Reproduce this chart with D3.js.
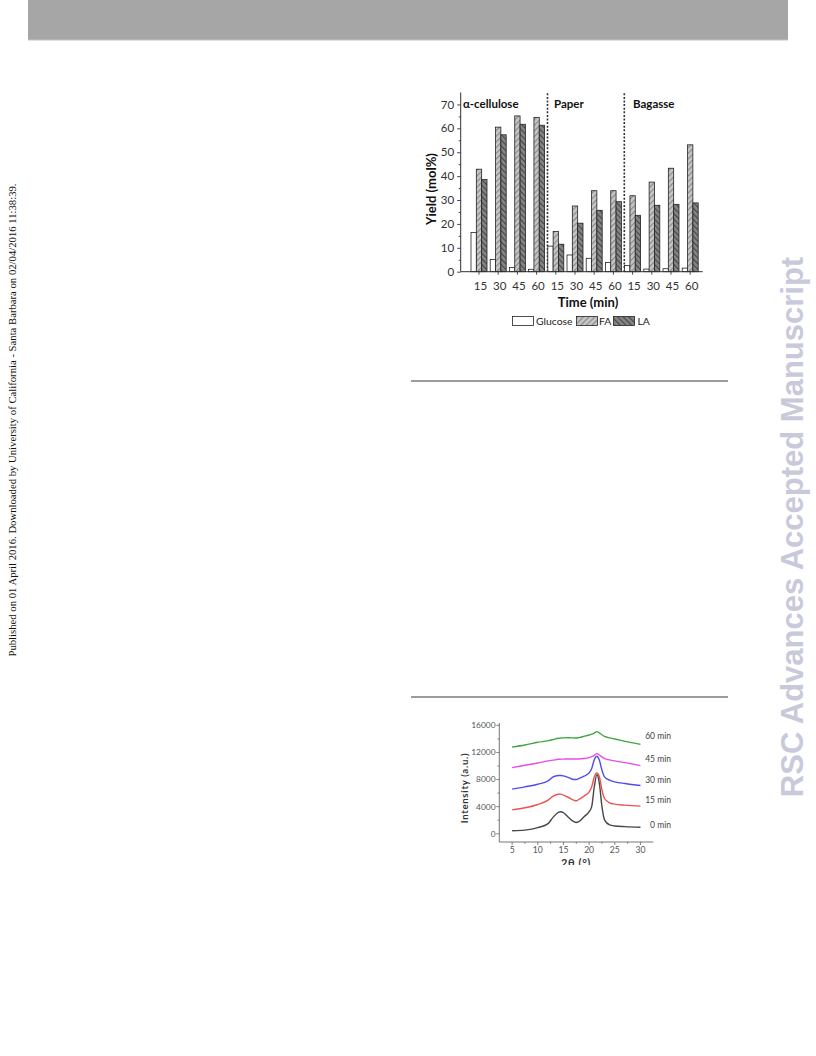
<!DOCTYPE html>
<html>
<head>
<meta charset="utf-8">
<script src="https://cdn.jsdelivr.net/npm/d3@7"></script>
<style>
  html, body { margin: 0; padding: 0; background: #fff; }
  svg { display: block; }
</style>
</head>
<body>
<svg id="page" width="816" height="1056"></svg>
<script>
// ---- Yield chart data (mol%) ----
const materials = ["α-cellulose", "Paper", "Bagasse"];
const times = ["15", "30", "45", "60"];
const seriesNames = ["Glucose", "FA", "LA"];
const glucose = [16.4, 5.1, 1.8, 1.0, 10.7, 7.0, 5.6, 3.9, 2.6, 1.1, 1.25, 1.5];
const formicAcid = [42.9, 60.5, 65.2, 64.6, 16.8, 27.5, 33.9, 33.9, 31.8, 37.5, 43.3, 53.1];
const levulinicAcid = [38.6, 57.3, 61.7, 61.3, 11.5, 20.3, 25.7, 29.3, 23.6, 27.8, 28.2, 28.8];
const yieldTicks = [0, 10, 20, 30, 40, 50, 60, 70];

// ---- XRD patterns: 2θ (°) and intensity (a.u.) ----
const twoTheta = [5, 7.5, 10, 12, 13, 14, 14.5, 15, 16, 17, 17.5, 18, 19, 20, 20.5, 21, 21.5, 22, 22.5, 23, 24, 25, 27, 30];
const xrd0 = [450, 540, 900, 1500, 2450, 3150, 3250, 3100, 2400, 1780, 1650, 1780, 2500, 3250, 4000, 6900, 8700, 7400, 4000, 2050, 1300, 1150, 1050, 950];
const xrd15 = [3530, 3830, 4320, 4960, 5550, 5840, 5850, 5690, 5350, 4960, 4860, 5060, 5550, 6180, 6920, 8390, 8980, 8390, 6430, 5200, 4560, 4370, 4220, 4070];
const xrd30 = [6580, 6920, 7310, 7800, 8390, 8590, 8600, 8540, 8290, 8000, 8000, 8150, 8490, 8980, 9620, 10940, 11440, 10850, 9370, 8390, 7900, 7660, 7410, 7120];
const xrd45 = [9770, 10110, 10450, 10750, 10870, 10990, 11010, 11020, 11040, 11040, 11040, 11040, 11100, 11240, 11380, 11580, 11830, 11630, 11350, 11090, 10900, 10750, 10500, 10060];
const xrd60 = [12810, 13100, 13500, 13740, 13920, 14090, 14130, 14160, 14180, 14150, 14130, 14200, 14380, 14580, 14700, 14870, 15070, 14870, 14620, 14380, 14150, 13990, 13640, 13200];
const xrdLabels = ["0 min", "15 min", "30 min", "45 min", "60 min"];
const xrdLabelLevels = [1300, 5000, 7900, 11000, 14400];
const xrdTicksX = [5, 10, 15, 20, 25, 30];
const xrdTicksY = [0, 4000, 8000, 12000, 16000];

const svg = d3.select("#page");
const defs = svg.append("defs");

// ---------- page furniture ----------
svg.append("rect").attr("x", 28).attr("y", 0).attr("width", 760).attr("height", 40).attr("fill", "#a6a6a6");
svg.append("line").attr("x1", 28).attr("x2", 788).attr("y1", 40).attr("y2", 40).attr("stroke", "#c4c4c4").attr("stroke-width", 1);

svg.append("text")
  .attr("transform", "translate(15.5,420) rotate(-90)")
  .attr("text-anchor", "middle")
  .attr("font-family", "Liberation Serif, serif")
  .attr("font-size", 10.7)
  .attr("fill", "#111")
  .text("Published on 01 April 2016. Downloaded by University of California - Santa Barbara on 02/04/2016 11:38:39.");

svg.append("text")
  .attr("transform", "translate(803,527) rotate(-90)")
  .attr("text-anchor", "middle")
  .attr("font-family", "Liberation Sans, Arial, sans-serif")
  .attr("font-weight", "bold")
  .attr("font-size", 31)
  .attr("fill", "#c9c9dc")
  .text("RSC Advances Accepted Manuscript");

[381, 697].forEach(y => {
  svg.append("line").attr("x1", 411).attr("x2", 728).attr("y1", y).attr("y2", y)
    .attr("stroke", "#9c9c9c").attr("stroke-width", 2);
});

// ---------- hatch patterns ----------
function hatch(id, base, ink, angle) {
  const p = defs.append("pattern").attr("id", id)
    .attr("patternUnits", "userSpaceOnUse")
    .attr("width", 4).attr("height", 4)
    .attr("patternTransform", `rotate(${angle})`);
  p.append("rect").attr("width", 4).attr("height", 4).attr("fill", base);
  p.append("line").attr("x1", 0.6).attr("x2", 0.6).attr("y1", 0).attr("y2", 4)
    .attr("stroke", ink).attr("stroke-width", 1.1);
}
hatch("hatchFA", "#c6c6c6", "#858585", 45);
hatch("hatchLA", "#858585", "#444444", -45);
const seriesFill = { Glucose: "#ffffff", FA: "url(#hatchFA)", LA: "url(#hatchLA)" };

// ---------- yield bar chart ----------
const font = "Lato, 'Open Sans', sans-serif";
const categories = [];
materials.forEach(m => times.forEach(t => categories.push(m + "|" + t)));
const rows = categories.map((c, i) => ({
  key: c, time: c.split("|")[1],
  Glucose: glucose[i], FA: formicAcid[i], LA: levulinicAcid[i]
}));

const axisX0 = 460.7, axisX1 = 702.7;
const x = d3.scaleBand().domain(categories).range([469.4, 699.8])
  .paddingInner(1 / 6).paddingOuter(1 / 12);
const xs = d3.scaleBand().domain(seriesNames).range([0, x.bandwidth()]).padding(0);
const y = d3.scaleLinear().domain([0, 75]).range([271.7, 92.5]);

const chart = svg.append("g");

// dotted separators between materials
materials.slice(1).forEach(m => {
  const xx = x(m + "|" + times[0]) - 0.3;
  chart.append("line").attr("x1", xx).attr("x2", xx).attr("y1", y(0)).attr("y2", y(75))
    .attr("stroke", "#333").attr("stroke-width", 1.6).attr("stroke-dasharray", "2,1.6");
});

// bars
const groups = chart.selectAll("g.grp").data(rows).join("g")
  .attr("class", "grp").attr("transform", d => `translate(${x(d.key)},0)`);
groups.selectAll("rect").data(d => seriesNames.map(s => ({ s, v: d[s] }))).join("rect")
  .attr("x", d => xs(d.s))
  .attr("width", xs.bandwidth())
  .attr("y", d => y(d.v))
  .attr("height", d => y(0) - y(d.v))
  .attr("fill", d => seriesFill[d.s])
  .attr("stroke", "#222").attr("stroke-width", 0.8);

// y axis
const yAxis = chart.append("g").attr("transform", `translate(${axisX0},0)`);
yAxis.call(d3.axisLeft(y).tickValues(d3.range(0, 75, 5)).tickSize(3).tickFormat(""))
  .call(g => g.select(".domain").remove());
yAxis.selectAll(".tick line").attr("stroke", "#333").attr("stroke-width", 0.9)
  .attr("x2", d => d % 10 === 0 ? -3.5 : -2);
yAxis.append("line").attr("x1", 0).attr("x2", 0).attr("y1", y(0)).attr("y2", y(75))
  .attr("stroke", "#333").attr("stroke-width", 1);
yAxis.selectAll("text.yt").data(yieldTicks).join("text").attr("class", "yt")
  .attr("x", -6.5).attr("y", d => y(d)).attr("dy", "0.36em")
  .attr("text-anchor", "end").attr("font-family", font).attr("font-size", 11.5)
  .attr("fill", "#333").text(d => d);

// x axis
const xAxisG = chart.append("g");
xAxisG.append("line").attr("x1", axisX0).attr("x2", axisX1).attr("y1", y(0)).attr("y2", y(0))
  .attr("stroke", "#333").attr("stroke-width", 1);
xAxisG.selectAll("line.xt").data(rows).join("line").attr("class", "xt")
  .attr("x1", d => x(d.key) + x.bandwidth() / 2).attr("x2", d => x(d.key) + x.bandwidth() / 2)
  .attr("y1", y(0)).attr("y2", y(0) + 3).attr("stroke", "#333").attr("stroke-width", 0.9);
xAxisG.selectAll("text.xl").data(rows).join("text").attr("class", "xl")
  .attr("x", d => x(d.key) + x.bandwidth() / 2 + 1.5).attr("y", 290)
  .attr("text-anchor", "middle").attr("font-family", font).attr("font-size", 11.5)
  .attr("fill", "#333").text(d => d.time);

// titles
chart.append("text").attr("x", 588).attr("y", 306.5).attr("text-anchor", "middle")
  .attr("font-family", font).attr("font-weight", "bold").attr("font-size", 13)
  .attr("fill", "#111").text("Time (min)");
chart.append("text").attr("transform", "translate(431,189) rotate(-90)")
  .attr("text-anchor", "middle").attr("dominant-baseline", "central")
  .attr("font-family", font).attr("font-weight", "bold").attr("font-size", 13)
  .attr("fill", "#111").text("Yield (mol%)");

// material headers
const headerX = { "α-cellulose": 463, "Paper": 554, "Bagasse": 633 };
materials.forEach(m => {
  chart.append("text").attr("x", headerX[m]).attr("y", 108)
    .attr("font-family", font).attr("font-weight", "bold").attr("font-size", 11.5)
    .attr("fill", "#111").text(m);
});

// legend
const legendItems = [
  { s: "Glucose", bx: 512.5, tx: 536 },
  { s: "FA", bx: 576.5, tx: 599 },
  { s: "LA", bx: 613.5, tx: 637.5 }
];
const lg = chart.append("g");
legendItems.forEach(it => {
  lg.append("rect").attr("x", it.bx).attr("y", 316.5).attr("width", 21).attr("height", 9)
    .attr("fill", seriesFill[it.s]).attr("stroke", "#222").attr("stroke-width", 0.8);
  lg.append("text").attr("x", it.tx).attr("y", 325).attr("font-family", font)
    .attr("font-size", 10.4).attr("fill", "#222").text(it.s);
});

// ---------- XRD chart ----------
defs.append("clipPath").attr("id", "xrdClip").append("rect")
  .attr("x", 440).attr("y", 700).attr("width", 260).attr("height", 165);
const xr = svg.append("g").attr("clip-path", "url(#xrdClip)");
const gx = d3.scaleLinear().domain([2.5, 32.5]).range([499.3, 653.3]);
const gy = d3.scaleLinear().domain([-1220, 16350]).range([842, 723]);
const axisCol = "#666";

xr.append("line").attr("x1", gx(2.5)).attr("x2", gx(2.5)).attr("y1", gy(-1220)).attr("y2", gy(16350))
  .attr("stroke", axisCol).attr("stroke-width", 0.9);
xr.append("line").attr("x1", gx(2.5)).attr("x2", gx(32.5)).attr("y1", gy(-1220)).attr("y2", gy(-1220))
  .attr("stroke", axisCol).attr("stroke-width", 0.9);

xr.selectAll("line.yt").data(d3.range(0, 16001, 2000)).join("line").attr("class", "yt")
  .attr("x1", gx(2.5)).attr("x2", d => gx(2.5) - (d % 4000 === 0 ? 3 : 1.8))
  .attr("y1", d => gy(d)).attr("y2", d => gy(d)).attr("stroke", axisCol).attr("stroke-width", 0.8);
xr.selectAll("text.yl").data(xrdTicksY).join("text").attr("class", "yl")
  .attr("x", 495.5).attr("y", d => gy(d)).attr("dy", "0.35em").attr("text-anchor", "end")
  .attr("font-family", font).attr("font-size", 8.4).attr("fill", "#555").text(d => d);

xr.selectAll("line.xt").data(d3.range(5, 30.1, 2.5)).join("line").attr("class", "xt")
  .attr("x1", d => gx(d)).attr("x2", d => gx(d))
  .attr("y1", gy(-1220)).attr("y2", d => gy(-1220) + (d % 5 === 0 ? 3 : 1.8))
  .attr("stroke", axisCol).attr("stroke-width", 0.8);
xr.selectAll("text.xl").data(xrdTicksX).join("text").attr("class", "xl")
  .attr("x", d => gx(d)).attr("y", 852.5).attr("text-anchor", "middle")
  .attr("font-family", font).attr("font-size", 8.6).attr("fill", "#555").text(d => d);

xr.append("text").attr("x", 576).attr("y", 867).attr("text-anchor", "middle")
  .attr("font-family", font).attr("font-weight", "bold").attr("font-size", 11)
  .attr("letter-spacing", 0.6)
  .attr("fill", "#333").text("2θ (°)");
xr.append("text").attr("transform", "translate(464.5,788) rotate(-90)")
  .attr("text-anchor", "middle").attr("dominant-baseline", "central")
  .attr("font-family", font).attr("font-weight", "bold").attr("font-size", 9.6)
  .attr("letter-spacing", 0.7)
  .attr("fill", "#333").text("Intensity (a.u.)");

const xrdSeries = [
  { v: xrd0, c: "#333333" },
  { v: xrd15, c: "#e8403c" },
  { v: xrd30, c: "#3a3ae6" },
  { v: xrd45, c: "#e63ae6" },
  { v: xrd60, c: "#2f9a2f" }
];
const line = d3.line().x((d, i) => gx(twoTheta[i])).y(d => gy(d)).curve(d3.curveMonotoneX);
xrdSeries.forEach(s => {
  xr.append("path").attr("d", line(s.v)).attr("fill", "none")
    .attr("stroke", s.c).attr("stroke-width", 1.4).attr("opacity", 0.9);
});
xr.selectAll("text.cl").data(xrdLabels).join("text").attr("class", "cl")
  .attr("x", 671).attr("y", (d, i) => gy(xrdLabelLevels[i])).attr("dy", "0.35em")
  .attr("text-anchor", "end").attr("font-family", font).attr("font-size", 8.5)
  .attr("fill", "#444").text(d => d);
</script>
</body>
</html>
